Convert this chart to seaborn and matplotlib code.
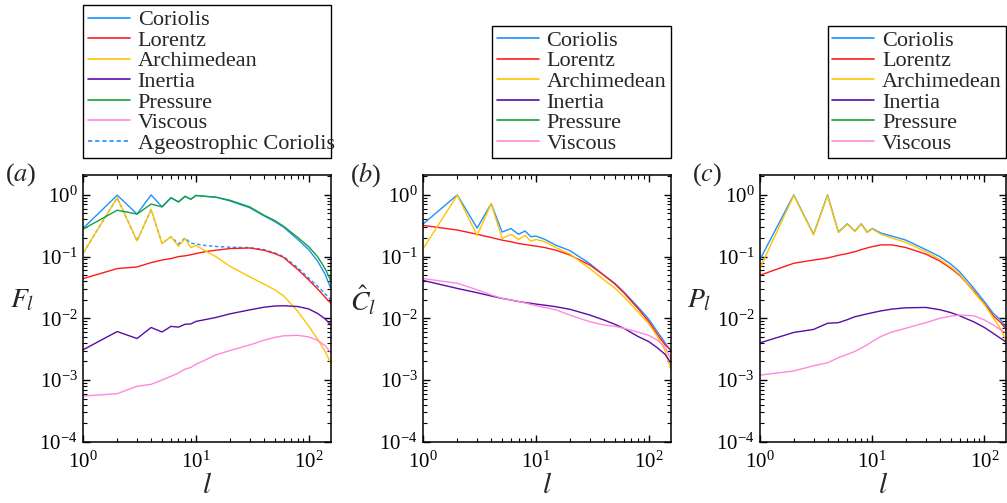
import matplotlib
matplotlib.use('Agg')
import matplotlib.pyplot as plt
from matplotlib.lines import Line2D
from matplotlib.ticker import NullFormatter
import seaborn as sns

# spherical harmonic degree
l_vals = [1, 2, 3, 4, 5, 6, 7, 8, 9, 10, 12, 15, 20, 30, 40, 50, 60, 80, 100, 120, 140, 157]

# (a) force spectra F_l
a_coriolis = [0.29, 0.99, 0.49, 1.0, 0.64, 0.90, 0.77, 0.95, 0.85, 0.98, 0.95, 0.92, 0.80, 0.62, 0.46, 0.37, 0.30, 0.19, 0.13, 0.085, 0.052, 0.031]
a_lorentz = [0.044, 0.064, 0.068, 0.080, 0.088, 0.093, 0.10, 0.103, 0.107, 0.112, 0.12, 0.127, 0.135, 0.138, 0.127, 0.112, 0.097, 0.062, 0.042, 0.030, 0.022, 0.0176]
a_archimedean = [0.115, 0.9, 0.18, 0.58, 0.163, 0.21, 0.147, 0.196, 0.14, 0.152, 0.125, 0.10, 0.07, 0.047, 0.036, 0.029, 0.023, 0.013, 0.0075, 0.0046, 0.0029, 0.0019]
a_inertia = [0.0031, 0.0061, 0.0047, 0.0071, 0.006, 0.0074, 0.0072, 0.008, 0.0081, 0.0089, 0.0095, 0.0103, 0.0118, 0.0137, 0.0151, 0.0158, 0.016, 0.0155, 0.0142, 0.012, 0.0098, 0.0078]
a_pressure = [0.28, 0.565, 0.49, 0.71, 0.64, 0.90, 0.77, 0.95, 0.85, 0.98, 0.95, 0.92, 0.82, 0.64, 0.47, 0.385, 0.31, 0.205, 0.145, 0.10, 0.064, 0.041]
a_viscous = [0.00055, 0.0006, 0.00079, 0.00085, 0.001, 0.00115, 0.0013, 0.0015, 0.0016, 0.0018, 0.0021, 0.00255, 0.003, 0.0037, 0.0044, 0.0049, 0.0052, 0.0053, 0.005, 0.0044, 0.0036, 0.0028]
a_ageo = [0.115, 0.9, 0.18, 0.58, 0.163, 0.21, 0.16, 0.2, 0.165, 0.16, 0.152, 0.146, 0.142, 0.14, 0.13, 0.115, 0.10, 0.066, 0.045, 0.033, 0.025, 0.02]

# (b) normalised spectra C_l
b_coriolis = [0.34, 1.0, 0.29, 0.72, 0.25, 0.285, 0.23, 0.26, 0.21, 0.215, 0.19, 0.153, 0.125, 0.077, 0.05, 0.037, 0.027, 0.0154, 0.0097, 0.006, 0.004, 0.0029]
b_lorentz = [0.32, 0.27, 0.23, 0.204, 0.185, 0.174, 0.163, 0.157, 0.152, 0.148, 0.14, 0.127, 0.106, 0.073, 0.05, 0.036, 0.026, 0.0145, 0.0089, 0.0054, 0.0037, 0.0031]
b_archimedean = [0.136, 0.99, 0.22, 0.72, 0.197, 0.23, 0.19, 0.22, 0.178, 0.19, 0.174, 0.14, 0.11, 0.064, 0.042, 0.031, 0.0225, 0.0128, 0.0082, 0.005, 0.003, 0.0015]
b_inertia = [0.041, 0.0305, 0.026, 0.023, 0.021, 0.0198, 0.0187, 0.018, 0.0175, 0.017, 0.0163, 0.0154, 0.014, 0.0113, 0.0094, 0.008, 0.0069, 0.0051, 0.0042, 0.0033, 0.0026, 0.0019]
b_viscous = [0.044, 0.037, 0.029, 0.024, 0.021, 0.0198, 0.0187, 0.0177, 0.0168, 0.016, 0.015, 0.0137, 0.0113, 0.0088, 0.0078, 0.0074, 0.0069, 0.006, 0.0053, 0.0044, 0.0034, 0.0022]

# (c) P_l
c_coriolis = [0.09, 1.0, 0.23, 1.0, 0.25, 0.34, 0.26, 0.34, 0.25, 0.285, 0.24, 0.215, 0.185, 0.13, 0.10, 0.076, 0.057, 0.031, 0.0186, 0.012, 0.0094, 0.0069]
c_lorentz = [0.05, 0.078, 0.088, 0.095, 0.105, 0.112, 0.12, 0.13, 0.138, 0.145, 0.155, 0.155, 0.14, 0.11, 0.085, 0.065, 0.05, 0.028, 0.017, 0.011, 0.0085, 0.0065]
c_archimedean = [0.065, 0.98, 0.225, 0.98, 0.245, 0.335, 0.255, 0.335, 0.245, 0.28, 0.23, 0.2, 0.17, 0.12, 0.09, 0.068, 0.052, 0.027, 0.0167, 0.0102, 0.0067, 0.0042]
c_inertia = [0.004, 0.0059, 0.0066, 0.0083, 0.0085, 0.0095, 0.0106, 0.0112, 0.0118, 0.0123, 0.0132, 0.0141, 0.0148, 0.015, 0.0138, 0.0124, 0.011, 0.0088, 0.0071, 0.0057, 0.0047, 0.0041]
c_viscous = [0.0012, 0.0014, 0.0017, 0.0019, 0.0023, 0.0026, 0.0029, 0.0033, 0.0037, 0.0042, 0.0051, 0.006, 0.0069, 0.0085, 0.01, 0.0108, 0.0113, 0.011, 0.0094, 0.0078, 0.0065, 0.0058]

names = ['Coriolis', 'Lorentz', 'Archimedean', 'Inertia', 'Pressure', 'Viscous']
colors = {'Coriolis': '#1e90ff', 'Lorentz': '#ff1a1a', 'Archimedean': '#ffc400',
          'Inertia': '#5a0ca8', 'Pressure': '#14a03a', 'Viscous': '#ff88dd'}

sns.set_style('ticks')
plt.rcParams['font.family'] = ['Liberation Serif', 'DejaVu Serif']
plt.rcParams['mathtext.fontset'] = 'stix'
plt.rcParams['axes.linewidth'] = 1.1
plt.rcParams['axes.edgecolor'] = 'black'

fig = plt.figure(figsize=(10.07, 5.03), dpi=100)
w, h, bot = 0.2457, 0.5301, 0.1219
ax_a = fig.add_axes([0.0827, bot, w, h])
ax_b = fig.add_axes([0.4204, bot, w, h])
ax_c = fig.add_axes([0.7547, bot, w - 0.001, h])

panels = [
    (ax_a, {'Coriolis': a_coriolis, 'Lorentz': a_lorentz, 'Archimedean': a_archimedean,
            'Inertia': a_inertia, 'Pressure': a_pressure, 'Viscous': a_viscous},
     r'$F_l$', 'a', -0.317),
    (ax_b, {'Coriolis': b_coriolis, 'Lorentz': b_lorentz, 'Archimedean': b_archimedean,
            'Inertia': b_inertia, 'Viscous': b_viscous},
     r'$\hat{C}_l$', 'b', -0.297),
    (ax_c, {'Coriolis': c_coriolis, 'Lorentz': c_lorentz, 'Archimedean': c_archimedean,
            'Inertia': c_inertia, 'Viscous': c_viscous},
     r'$P_l$', 'c', -0.275),
]

dash = (0, (2.5, 1.8))

for ax, series, ylab, letter, lx in panels:
    ax.set_xscale('log')
    ax.set_yscale('log')
    if ax is ax_a:
        sns.lineplot(x=l_vals, y=a_ageo, ax=ax, color=colors['Coriolis'], lw=1.0,
                     linestyle=dash, estimator=None, sort=False)
    for name in names:
        if name in series:
            sns.lineplot(x=l_vals, y=series[name], ax=ax, color=colors[name], lw=1.0,
                         estimator=None, sort=False)
    ax.set_xlim(1, 157)
    ax.set_ylim(1e-4, 2.1)
    ax.tick_params(which='both', direction='in', top=True, right=True, labelsize=15, colors='black')
    ax.tick_params(which='major', length=5, width=1)
    ax.tick_params(which='minor', length=2.8, width=0.8)
    ax.tick_params(axis='x', which='both', pad=7)
    ax.tick_params(axis='y', which='both', pad=4)
    ax.xaxis.set_minor_formatter(NullFormatter())
    ax.yaxis.set_minor_formatter(NullFormatter())
    ax.set_xlabel(r'$l$', fontsize=21, labelpad=0)
    ax.set_ylabel(ylab, fontsize=20, rotation=0, va='center', ha='center')
    ax.yaxis.set_label_coords(-0.245, 0.53)
    ax.text(lx, 1.0, '($' + letter + '$)', transform=ax.transAxes,
            fontsize=19, ha='left', va='center')
    for s in ax.spines.values():
        s.set_visible(True)

    handles = [Line2D([], [], color=colors[n], lw=1.2) for n in names]
    labels = list(names)
    common = dict(borderaxespad=0, fontsize=16, handlelength=1.9, handletextpad=0.35,
                  labelspacing=0.0, borderpad=0.2, fancybox=False, framealpha=1,
                  edgecolor='black')
    if ax is ax_a:
        handles.append(Line2D([], [], color=colors['Coriolis'], lw=1.2, linestyle=dash))
        labels.append('Ageostrophic Coriolis')
        leg = ax.legend(handles, labels, loc='lower left', bbox_to_anchor=(0, 1.0637, 1, 0.3),
                        mode='expand', **common)
    else:
        leg = ax.legend(handles, labels, loc='lower right', bbox_to_anchor=(1.0, 1.0637), **common)
    leg.get_frame().set_linewidth(1.0)

fig.savefig('out.png', dpi=100)
